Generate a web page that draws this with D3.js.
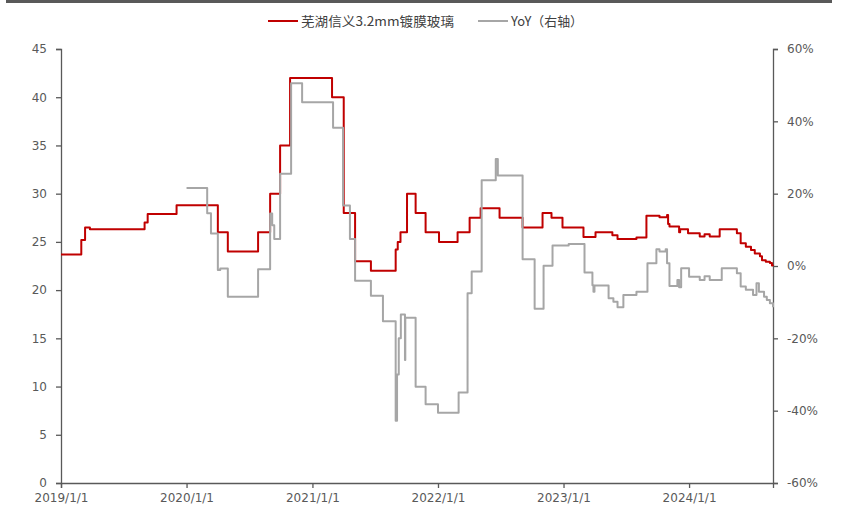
<!DOCTYPE html>
<meta charset="utf-8">
<style>
  body { margin: 0; background: #fff; }
  svg { display: block; }
  .axis text { font-family: "DejaVu Sans", sans-serif; font-size: 12px; fill: #595959; }
  .axis path, .axis line { stroke: #595959; stroke-width: 1.3; }
  .legend text { font-family: "Noto Sans CJK SC", sans-serif; font-size: 13px; fill: #404040; }
</style>
<body>
<script src="https://cdn.jsdelivr.net/npm/d3@7"></script>
<script>

var width = 841,
    height = 512;

// 芜湖信义3.2mm镀膜玻璃 price (left axis), step change points
var priceDates = ["2019-01-01","2019-03-01","2019-03-12","2019-03-26","2019-09-01","2019-09-10","2019-12-03",
  "2020-04-01","2020-04-30","2020-07-27","2020-08-31","2020-09-29","2020-10-28",
  "2021-02-27","2021-04-02","2021-05-05","2021-06-20","2021-08-31","2021-09-06","2021-09-14","2021-10-03",
  "2021-10-28","2021-11-26","2022-01-04","2022-02-27","2022-04-03","2022-05-05","2022-06-29","2022-09-04",
  "2022-11-01","2022-11-27","2022-12-29","2023-02-28","2023-04-04","2023-05-23","2023-06-07","2023-08-01",
  "2023-08-30","2023-10-07","2023-10-29","2023-11-01","2023-11-05","2023-12-03","2023-12-06","2023-12-29",
  "2024-02-01","2024-02-15","2024-03-01","2024-03-30","2024-05-19","2024-05-30","2024-06-14","2024-06-29",
  "2024-07-10","2024-07-25","2024-07-31","2024-08-11","2024-08-23","2024-08-29","2024-09-01"];
var priceValues = [23.7,25.2,26.5,26.3,27.0,27.9,28.8,
  26.0,24.0,26.0,30.0,35.0,42.0,
  40.0,28.0,23.0,22.0,24.2,25.0,26.0,30.0,
  28.0,26.0,25.0,26.0,27.5,28.5,27.5,26.5,
  28.0,27.5,26.5,25.5,26.0,25.7,25.3,25.45,
  27.7,27.55,27.8,26.85,26.6,26.0,26.3,25.9,
  25.55,25.8,25.55,26.3,25.9,24.85,24.5,24.16,
  23.8,23.5,23.1,22.95,22.8,22.55,22.5];

// YoY % (right axis)
var yoyDates = ["2020-01-01","2020-03-01","2020-03-12","2020-04-01","2020-04-08","2020-04-30","2020-07-27",
  "2020-08-31","2020-09-06","2020-09-12","2020-09-29","2020-10-31","2020-12-02",
  "2021-03-02","2021-03-31","2021-04-20","2021-05-05","2021-06-20","2021-07-25","2021-08-31","2021-09-04",
  "2021-09-09","2021-09-15","2021-09-27","2021-09-28","2021-10-28","2021-11-26","2022-01-01","2022-03-02",
  "2022-03-28","2022-04-09","2022-05-08","2022-06-18","2022-06-24","2022-09-04","2022-10-09","2022-11-04",
  "2022-11-30","2023-01-16","2023-03-03","2023-03-26","2023-03-29","2023-04-01","2023-05-12","2023-05-26",
  "2023-06-07","2023-06-24","2023-08-01","2023-09-02","2023-09-28","2023-10-07","2023-10-25","2023-10-29",
  "2023-11-05","2023-11-28","2023-12-03","2023-12-09","2024-01-01","2024-02-01","2024-02-15","2024-03-01",
  "2024-04-05","2024-05-19","2024-05-30","2024-06-14","2024-07-05","2024-07-15","2024-07-22","2024-08-06",
  "2024-08-14","2024-08-23","2024-09-01"];
var yoyValues = [21.6,14.6,9.0,-1.1,-0.7,-8.5,-0.9,
  14.5,11.3,7.5,25.5,50.5,45.3,
  38.2,16.7,7.5,-4.1,-8.2,-15.3,-42.8,-30.0,
  -20.0,-13.4,-26.0,-14.3,-33.4,-38.2,-40.6,-35.0,
  -7.5,-1.5,23.7,29.6,25.0,1.85,-11.8,0.1,
  5.7,6.1,-1.8,-5.3,-7.1,-5.4,-8.9,-9.9,
  -11.4,-8.0,-7.1,0.75,4.6,4.0,4.6,0.75,
  -5.5,-3.9,-5.9,-0.6,-3.0,-3.9,-2.8,-3.9,
  -0.65,-2.0,-5.7,-6.6,-8.0,-4.8,-7.1,-8.5,
  -9.4,-10.3,-11.4];

var xTickDates = ["2019-01-01","2020-01-01","2021-01-01","2022-01-01","2023-01-01","2024-01-01"];
var leftTicks = [0,5,10,15,20,25,30,35,40,45];
var rightTicks = [-60,-40,-20,0,20,40,60];

var seriesNames = ["芜湖信义3.2mm镀膜玻璃", "YoY（右轴）"];
var seriesColors = ["#C00000", "#A6A6A6"];

var parseDate = d3.timeParse("%Y-%m-%d");
var margin = {top: 49, right: 68, bottom: 29, left: 61};
var innerW = width - margin.left - margin.right,
    innerH = height - margin.top - margin.bottom;

var svg = d3.select("body").append("svg")
    .attr("width", width)
    .attr("height", height);

// thin dark rule along the top edge
svg.append("line")
    .attr("x1", 6).attr("x2", 832)
    .attr("y1", 1.5).attr("y2", 1.5)
    .attr("stroke", "#595959").attr("stroke-width", 3);

var g = svg.append("g").attr("transform", "translate(" + margin.left + "," + margin.top + ")");

var x = d3.scaleTime()
    .domain([parseDate("2019-01-01"), parseDate("2024-09-01")])
    .range([0, innerW]);
var yL = d3.scaleLinear().domain([0, 45]).range([innerH, 0]);
var yR = d3.scaleLinear().domain([-60, 60]).range([innerH, 0]);

var price = priceDates.map(function(d, i) { return {date: parseDate(d), value: priceValues[i]}; });
var yoy = yoyDates.map(function(d, i) { return {date: parseDate(d), value: yoyValues[i]}; });

// axes
g.append("g").attr("class", "axis")
    .attr("transform", "translate(0," + innerH + ")")
    .call(d3.axisBottom(x)
      .tickValues(xTickDates.map(parseDate))
      .tickFormat(d3.timeFormat("%Y/%-m/%-d"))
      .tickSizeOuter(0).tickSize(5).tickPadding(5));

g.append("g").attr("class", "axis")
    .call(d3.axisLeft(yL).tickValues(leftTicks).tickSizeOuter(0).tickSize(5).tickPadding(9));

g.append("g").attr("class", "axis")
    .attr("transform", "translate(" + innerW + ",0)")
    .call(d3.axisRight(yR).tickValues(rightTicks)
      .tickFormat(function(d) { return d + "%"; })
      .tickSizeOuter(0).tickSize(5).tickPadding(9));

// lines
var priceLine = d3.line()
    .x(function(d) { return x(d.date); })
    .y(function(d) { return yL(d.value); })
    .curve(d3.curveStepAfter);
var yoyLine = d3.line()
    .x(function(d) { return x(d.date); })
    .y(function(d) { return yR(d.value); })
    .curve(d3.curveStepAfter);

g.append("path").datum(price)
    .attr("fill", "none").attr("stroke", seriesColors[0])
    .attr("stroke-width", 2).attr("stroke-linejoin", "round")
    .attr("d", priceLine);

g.append("path").datum(yoy)
    .attr("fill", "none").attr("stroke", seriesColors[1])
    .attr("stroke-width", 2).attr("stroke-linejoin", "round")
    .attr("d", yoyLine);

// legend
var legendItems = [{x: 268, w: 153}, {x: 478, w: 72}];
var legend = svg.append("g").attr("class", "legend");
legendItems.forEach(function(item, i) {
  legend.append("line")
      .attr("x1", item.x).attr("x2", item.x + 30)
      .attr("y1", 21).attr("y2", 21)
      .attr("stroke", seriesColors[i]).attr("stroke-width", 2);
  legend.append("text")
      .attr("x", item.x + 33).attr("y", 26)
      .attr("textLength", item.w)
      .attr("lengthAdjust", "spacingAndGlyphs")
      .text(seriesNames[i]);
});

</script>
